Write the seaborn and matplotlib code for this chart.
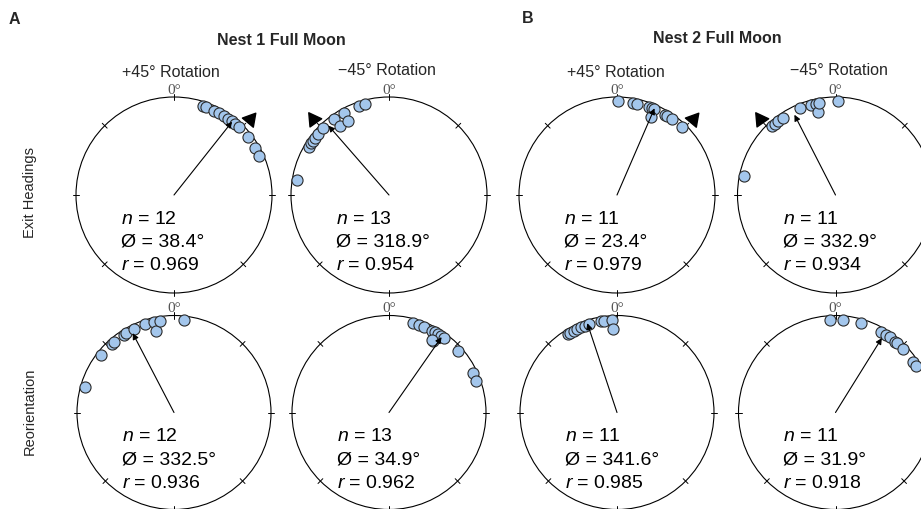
import numpy as np
import pandas as pd
import matplotlib
matplotlib.use("Agg")
import matplotlib.pyplot as plt
import seaborn as sns
from matplotlib.patches import Circle

sns.set_theme(style="white")
plt.rcParams["font.family"] = ["Liberation Sans", "DejaVu Sans"]
plt.rcParams["mathtext.fontset"] = "custom"
plt.rcParams["mathtext.rm"] = "Liberation Sans"
plt.rcParams["mathtext.it"] = "Liberation Sans:italic"

# ---------------- data ----------------
nest_titles = ["Nest 1 Full Moon", "Nest 2 Full Moon"]
panel_letters = ["A", "B"]
rotation_labels = ["+45° Rotation", "\u221245° Rotation"]
row_labels = ["Exit Headings", "Reorientation"]
cue_direction = [45, 315]          # +45 / -45 rotated cue (degrees)

# headings in degrees clockwise from 0°
n1_plus_exit = [17.8, 19.9, 25.6, 29.0, 32.3, 35.6, 38.2, 41.0, 43.8, 51.8, 59.9, 65.7]
n1_minus_exit = [279.4, 300.9, 303.4, 305.5, 307.9, 310.8, 315.3, 324.1, 324.3,
                 331.2, 331.4, 341.1, 345.3]
n2_plus_exit = [0.8, 9.7, 12.6, 20.1, 21.8, 23.2, 23.4, 31.1, 32.6, 35.9, 43.7]
n2_minus_exit = [281.5, 317.6, 319.7, 321.9, 325.6, 337.7, 345.1, 347.7, 347.9, 349.8, 1.4]
n1_plus_reor = [285.9, 308.2, 318.0, 320.0, 327.0, 329.0, 334.5, 341.8, 347.5, 347.7, 351.2, 5.9]
n1_minus_reor = [15.0, 18.8, 22.2, 27.8, 29.6, 31.6, 31.8, 34.0, 36.8, 48.4, 64.7, 70.0, 30.8]
n2_plus_reor = [327.8, 329.7, 332.1, 334.5, 337.2, 339.9, 342.7, 350.3, 351.7, 356.9, 357.1]
n2_minus_reor = [356.9, 4.5, 16.0, 29.5, 33.0, 35.9, 40.0, 41.6, 46.8, 56.6, 60.0]

headings = [[n1_plus_exit, n1_minus_exit, n2_plus_exit, n2_minus_exit],
            [n1_plus_reor, n1_minus_reor, n2_plus_reor, n2_minus_reor]]
mean_dirs = [[38.4, 318.9, 23.4, 332.9],
             [332.5, 34.9, 341.6, 31.9]]
mean_r = [[0.969, 0.954, 0.979, 0.934],
          [0.936, 0.962, 0.985, 0.918]]

# ---------------- layout ----------------
W, H = 921, 510
fig = plt.figure(figsize=(W / 100, H / 100), dpi=100)

col_cx = [174, 389, 617, 835.5]
row_cy = [196, 413.5]
row_R = [98, 97]
LIM = 1.25

DOT_FC = "#a3c6ec"
DOT_EC = "#2b2b2b"


def stack_levels(angles, tol=1.0):
    placed = []
    levels = []
    for a in angles:
        lev = 0
        while any(l == lev and abs((a - b + 180) % 360 - 180) < tol for b, l in placed):
            lev += 1
        placed.append((a, lev))
        levels.append(lev)
    return levels


for ri in range(2):
    for ci in range(4):
        cx, cy, R = col_cx[ci], row_cy[ri], row_R[ri]
        half = LIM * R
        ax = fig.add_axes([(cx - half) / W, 1 - (cy + half) / H, 2 * half / W, 2 * half / H])

        ax.add_patch(Circle((0, 0), 1, fill=False, lw=0.8, ec="black", zorder=1))
        for t in range(0, 360, 45):
            th = np.deg2rad(t)
            ax.plot([0.965 * np.sin(th), 1.035 * np.sin(th)],
                    [0.965 * np.cos(th), 1.035 * np.cos(th)], color="black", lw=0.7, zorder=1)
        ax.text(0, 1.015, "0°", ha="center", va="bottom", fontsize=11,
                family=["Liberation Serif", "DejaVu Serif"], color="#555555")

        ang = headings[ri][ci]
        lev = stack_levels(ang)
        rad = [0.955 - 0.09 * l for l in lev]
        th = np.deg2rad(ang)
        df = pd.DataFrame({"x": np.array(rad) * np.sin(th), "y": np.array(rad) * np.cos(th)})
        sns.scatterplot(data=df, x="x", y="y", ax=ax, s=64, color=DOT_FC,
                        edgecolor=DOT_EC, linewidth=0.8, zorder=3, legend=False)
        ax.set_xlim(-LIM, LIM)
        ax.set_ylim(-LIM, LIM)
        ax.axis("off")

        m = np.deg2rad(mean_dirs[ri][ci])
        L = mean_r[ri][ci] * 0.985
        ax.annotate("", xy=(L * np.sin(m), L * np.cos(m)), xytext=(0, 0),
                    arrowprops=dict(arrowstyle="-|>", lw=0.8, color="black",
                                    mutation_scale=9, shrinkA=0, shrinkB=0),
                    zorder=4)

        if ri == 0:
            cd = cue_direction[ci % 2]
            rot = 80 if cd == 45 else -85
            tc = np.deg2rad(cd)
            ax.scatter([1.095 * np.sin(tc)], [1.095 * np.cos(tc)], marker=(3, 0, rot),
                       s=140, color="black", zorder=5, clip_on=False)

        n = len(ang)
        lines = [f"$n$ = {n}", f"\u00d8 = {mean_dirs[ri][ci]:.1f}°", f"$r$ = {mean_r[ri][ci]:.3f}"]
        for k, s in enumerate(lines):
            ax.text(-0.54, -(27.7 + 23.2 * k) / R, s, ha="left", va="baseline",
                    fontsize=14, color="black")

# ---------------- headers ----------------
fig.text(9 / W, 1 - 24 / H, panel_letters[0], fontsize=11.5, fontweight="bold", va="baseline")
fig.text(522 / W, 1 - 23 / H, panel_letters[1], fontsize=11.5, fontweight="bold", va="baseline")
fig.text(281 / W, 1 - 45 / H, nest_titles[0], fontsize=11.5, fontweight="bold",
         ha="center", va="baseline")
fig.text(717 / W, 1 - 43 / H, nest_titles[1], fontsize=11.5, fontweight="bold",
         ha="center", va="baseline")
rot_pos = [(171, 77), (387, 75), (616, 77), (839, 75)]
for i, (x, y) in enumerate(rot_pos):
    fig.text(x / W, 1 - y / H, rotation_labels[i % 2], fontsize=11.5, ha="center", va="baseline")
fig.text(30 / W, 1 - 193 / H, row_labels[0], rotation=90, fontsize=10.5, ha="center", va="center")
fig.text(30 / W, 1 - 411 / H, row_labels[1], rotation=90, fontsize=10.5, ha="center", va="center")

fig.savefig("out.png", dpi=100)
